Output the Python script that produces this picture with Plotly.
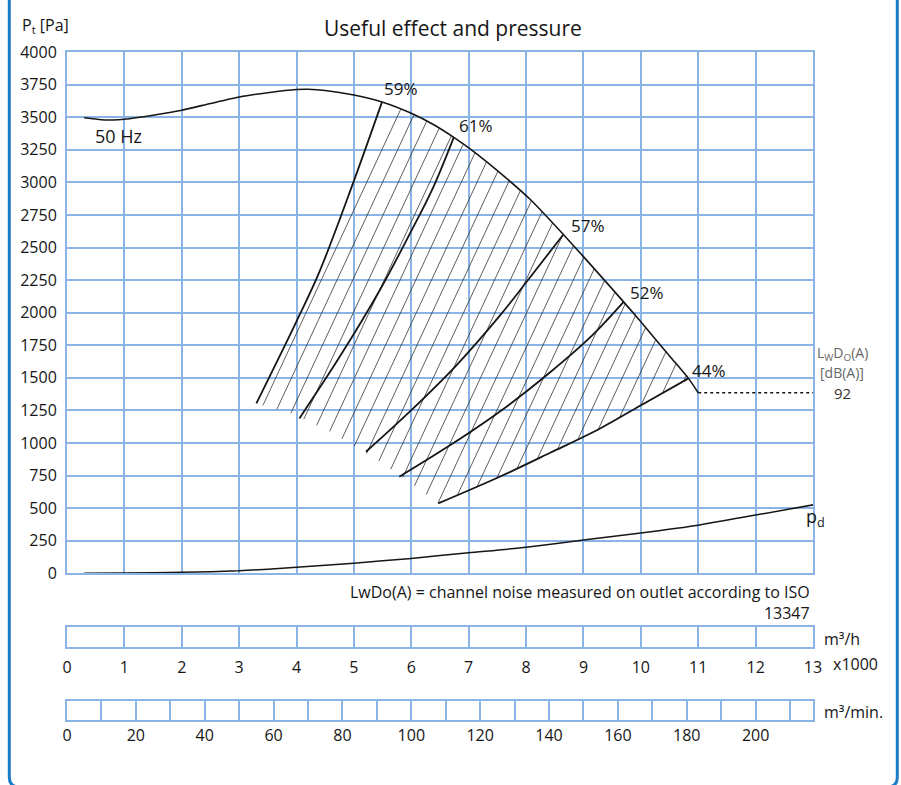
import plotly.graph_objects as go

# ---------------- data (flow in 1000 m3/h, pressure in Pa) ----------------
pt_x = [0.30, 0.60, 0.80, 1.00, 1.50, 2.00, 2.50, 3.00, 3.50, 4.00, 4.20, 4.50, 5.00, 5.49,
        6.00, 6.40, 6.74, 7.03, 7.50, 8.07, 8.65, 9.00, 9.70, 10.00, 10.50, 10.83, 11.00]
pt_y = [3495, 3480, 3478, 3484, 3515, 3553, 3605, 3655, 3688, 3712, 3714, 3705, 3670, 3617,
        3530, 3440, 3345, 3255, 3090, 2870, 2600, 2430, 2083, 1930, 1668, 1496, 1385]

pd_x = [0.30, 1.00, 2.00, 3.00, 4.00, 5.00, 6.00, 7.00, 8.00, 9.00, 10.00, 11.00, 12.00, 13.07]
pd_y = [0, 3, 8, 20, 46, 78, 115, 158, 200, 256, 310, 370, 447, 531]

eff59_x = [3.30, 4.01, 4.40, 4.99, 5.49]
eff59_y = [1304, 1943, 2315, 3000, 3617]
eff61_x = [4.05, 4.76, 5.46, 5.98, 6.38, 6.74]
eff61_y = [1189, 1667, 2180, 2610, 2960, 3345]
eff57_x = [5.21, 6.00, 6.79, 7.55, 8.01, 8.65]
eff57_y = [933, 1252, 1598, 1981, 2237, 2600]
eff52_x = [5.79, 6.68, 7.55, 8.42, 9.12, 9.70]
eff52_y = [741, 984, 1244, 1543, 1812, 2083]
eff44_x = [6.47, 7.55, 8.42, 9.29, 10.05, 10.83]
eff44_y = [537, 743, 925, 1112, 1302, 1496]

hatch_low_x = [3.30, 3.92, 4.59, 5.46, 6.04, 6.47]
hatch_low_y = [1304, 1227, 1086, 856, 677, 537]

eff_labels = ["59%", "61%", "57%", "52%", "44%"]
eff_label_x = [5.49, 6.79, 8.74, 9.78, 10.86]
eff_label_y = [3722, 3433, 2671, 2152, 1559]

noise_level = 92
noise_x = [11.00, 13.18]
noise_y = [1385, 1385]

y_ticks = list(range(0, 4001, 250))
flow_h_ticks = list(range(0, 14))
flow_min_ticks = list(range(0, 201, 20))
flow_min_minor = list(range(10, 211, 20))

# ---------------- layout geometry ----------------
W, H = 901, 785
ML, MT, MB = 66.7, 51.7, 65
PW = 746.0
MR = W - ML - PW
PH = H - MT - MB


def pyp(py):
    return (H - MB - py) / PH


def pxp(px):
    return (px - ML) / PW


main_dom = [pyp(573.3), 1.0]
box2_dom = [pyp(647.3), pyp(627.3)]
box3_dom = [0.0, pyp(700.7)]

GRID = "#8ab4e5"
BORDER = "#1b7cc8"
INK = "#161616"
FONT = "Open Sans"
TICK = dict(family=FONT, size=16, color=INK)

fig = go.Figure()

# ---------------- hatching of the working region ----------------
kx = PW / 13.0
ky = PH * (main_dom[1] - main_dom[0]) / 4000.0
poly = list(zip(eff59_x, eff59_y))
poly += [(x, y) for x, y in zip(pt_x, pt_y) if eff59_x[-1] < x < eff44_x[-1]]
poly += list(zip(eff44_x[::-1], eff44_y[::-1]))
poly += list(zip(hatch_low_x[::-1][1:-1], hatch_low_y[::-1][1:-1]))
uv = [(x * kx, y * ky) for x, y in poly]
slope = 2.15
spacing = 15.75
cvals = [u - v / slope for u, v in uv]
hx, hy = [], []
c = cvals[0] + 7.5
while c < max(cvals):
    pts = []
    n = len(uv)
    for i in range(n):
        (u1, v1), (u2, v2) = uv[i], uv[(i + 1) % n]
        f1 = u1 - v1 / slope - c
        f2 = u2 - v2 / slope - c
        if (f1 > 0) != (f2 > 0):
            t = f1 / (f1 - f2)
            pts.append((u1 + t * (u2 - u1), v1 + t * (v2 - v1)))
    pts.sort(key=lambda p: p[1])
    for a, b in zip(pts[0::2], pts[1::2]):
        hx += [a[0] / kx, b[0] / kx, None]
        hy += [a[1] / ky, b[1] / ky, None]
    c += spacing

fig.add_trace(go.Scatter(x=hx, y=hy, mode="lines", line=dict(color="#333333", width=0.8),
                         hoverinfo="skip", showlegend=False, xaxis="x", yaxis="y"))

# ---------------- curves ----------------
for ex, ey in [(eff59_x, eff59_y), (eff61_x, eff61_y), (eff57_x, eff57_y),
               (eff52_x, eff52_y), (eff44_x, eff44_y)]:
    fig.add_trace(go.Scatter(x=ex, y=ey, mode="lines",
                             line=dict(color=INK, width=1.8, shape="spline", smoothing=1.0),
                             showlegend=False, xaxis="x", yaxis="y"))

fig.add_trace(go.Scatter(x=pt_x, y=pt_y, mode="lines",
                         line=dict(color=INK, width=1.6, shape="spline", smoothing=0.6),
                         showlegend=False, xaxis="x", yaxis="y"))
fig.add_trace(go.Scatter(x=pd_x, y=pd_y, mode="lines",
                         line=dict(color=INK, width=1.5, shape="spline", smoothing=0.6),
                         showlegend=False, cliponaxis=False, xaxis="x", yaxis="y"))
fig.add_trace(go.Scatter(x=noise_x, y=noise_y, mode="lines", line=dict(color=INK, width=1.5, dash="dot"),
                         showlegend=False, cliponaxis=False, xaxis="x", yaxis="y"))

# the two flow scales below the chart
fig.add_trace(go.Scatter(x=[None], y=[None], mode="lines", showlegend=False, hoverinfo="skip",
                         xaxis="x2", yaxis="y2"))
fig.add_trace(go.Scatter(x=[None], y=[None], mode="lines", showlegend=False, hoverinfo="skip",
                         xaxis="x3", yaxis="y3"))

# ---------------- axes ----------------
common = dict(showgrid=True, gridcolor=GRID, gridwidth=2, showline=True, linecolor=GRID,
              linewidth=2, mirror=True, zeroline=False, fixedrange=True)
fig.update_layout(
    width=W, height=H, margin=dict(l=ML, r=MR, t=MT, b=MB, autoexpand=False),
    paper_bgcolor="white", plot_bgcolor="white", showlegend=False,
    font=dict(family=FONT, size=16, color=INK),
    xaxis=dict(domain=[0, 1], range=[0, 13], tickvals=flow_h_ticks, showticklabels=False,
               ticks="", anchor="y", **common),
    yaxis=dict(domain=main_dom, range=[0, 4000], tickvals=y_ticks, ticks="outside", ticklen=5,
               tickcolor="rgba(0,0,0,0)", tickfont=TICK, anchor="x", **common),
    xaxis2=dict(domain=[0, 1], range=[0, 13], tickvals=flow_h_ticks, ticks="outside", ticklen=4,
                tickcolor="rgba(0,0,0,0)", tickfont=TICK, anchor="y2", **common),
    yaxis2=dict(domain=box2_dom, range=[0, 1], showticklabels=False, ticks="", anchor="x2",
                **{**common, "showgrid": False}),
    xaxis3=dict(domain=[0, 1], range=[0, 13000 / 60], tickvals=flow_min_ticks,
                minor=dict(tickvals=flow_min_minor, showgrid=True, gridcolor=GRID, gridwidth=2, ticks=""),
                ticks="", tickfont=TICK, anchor="y3", **common),
    yaxis3=dict(domain=box3_dom, range=[0, 1], showticklabels=False, ticks="", anchor="x3",
                **{**common, "showgrid": False}),
)

# ---------------- text ----------------
def pa(text, px, py, xanchor="left", size=16, color=INK, align="left"):
    return dict(text=text, x=pxp(px), y=pyp(py), xref="paper", yref="paper", xanchor=xanchor,
                yanchor="middle", showarrow=False, align=align,
                font=dict(family=FONT, size=size, color=color))


ann = []
ann.append(pa("Useful effect and pressure", 453, 28, "center", 21))
ann.append(pa("P<sub>t</sub> [Pa]", 20, 25, "left", 16))
ann.append(dict(text="50 Hz", x=0.46, y=3354, xref="x", yref="y", xanchor="left", yanchor="middle",
                showarrow=False, font=dict(family=FONT, size=18)))
for t, x, y in zip(eff_labels, eff_label_x, eff_label_y):
    ann.append(dict(text=t, x=x, y=y, xref="x", yref="y", xanchor="left", yanchor="middle",
                    showarrow=False, font=dict(family=FONT, size=17)))
ann.append(pa("L<sub>W</sub>D<sub>O</sub>(A)", 842, 353, "center", 14, "#666666"))
ann.append(pa("[dB(A)]", 842, 372, "center", 14, "#666666"))
ann.append(pa(str(noise_level), 842, 393, "center", 15, "#333333"))
ann.append(pa("p<sub>d</sub>", 804, 517, "left", 18))
ann.append(pa("LwDo(A) = channel noise measured on outlet according to ISO<br>13347", 812, 602.5,
              "right", 16, INK, "right"))
ann.append(pa("m³/h", 822, 639, "left", 16))
ann.append(pa("x1000", 831, 664, "left", 16))
ann.append(pa("m³/min.", 822, 712, "left", 16))
fig.update_layout(annotations=ann)

# ---------------- rounded frame ----------------
l, r = pxp(9), pxp(897)
top, bot = pyp(-10), pyp(787)
rx, ry = 10 / PW, 10 / PH
path = (f"M {l},{top} L {l},{bot + ry} Q {l},{bot} {l + rx},{bot} "
        f"L {r - rx},{bot} Q {r},{bot} {r},{bot + ry} L {r},{top}")
fig.add_shape(type="path", path=path, xref="paper", yref="paper",
              line=dict(color=BORDER, width=3), layer="above")

# the figure fills the whole page (no default body margin, no scrollbars)
fig.write_html("out.html", config={"displayModeBar": False},
               post_script="document.body.style.margin='0';document.body.style.overflow='hidden';")
